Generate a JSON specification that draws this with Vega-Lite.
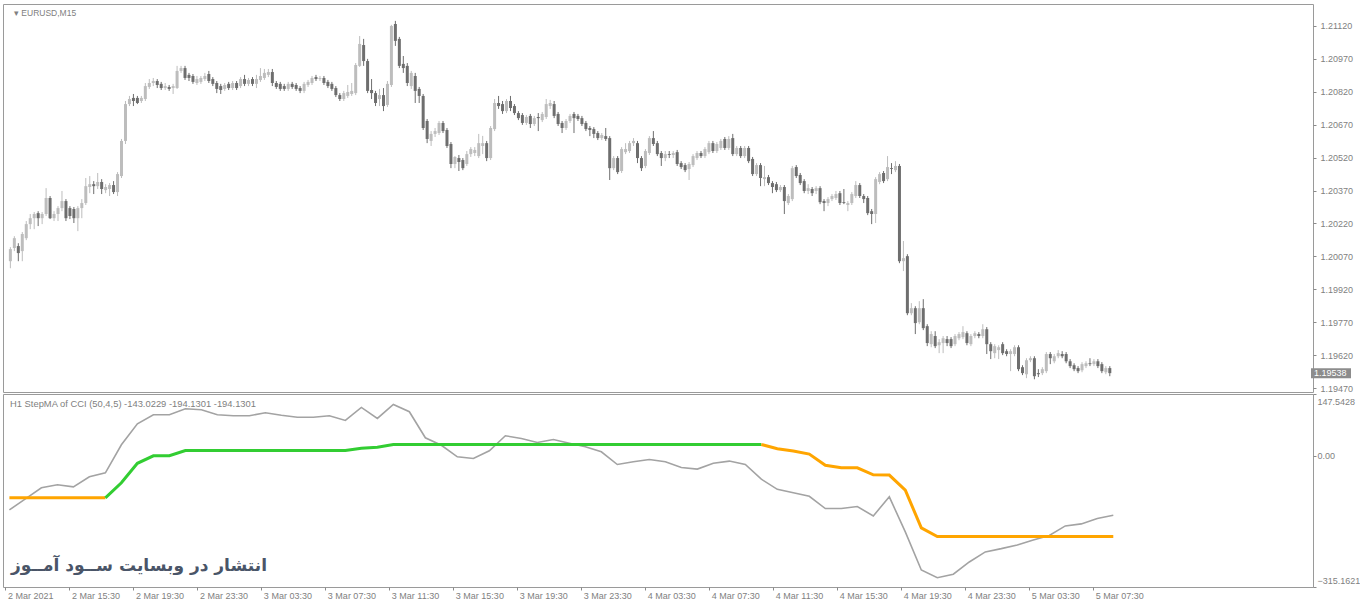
{
  "$schema": "https://vega.github.io/schema/vega-lite/v6.json",
  "background": "white",
  "padding": {"left": 2, "top": 3, "right": 0, "bottom": 0},
  "spacing": 2,
  "bounds": "flush",
  "config": {
    "view": {"stroke": "#9a9a9a", "strokeWidth": 1},
    "axis": {"labelFont": "Liberation Sans", "labelFontSize": 9, "labelColor": "#7f7f7f", "tickColor": "#8a8a8a", "domain": false, "grid": false, "title": null, "tickSize": 3, "labelOverlap": false},
    "text": {"font": "Liberation Sans"}
  },
  "datasets": {
    "bars": [
      {"t":"2021-03-02T11:30","o":1.20048,"h":1.20112,"l":1.20016,"c":1.20103},
      {"t":"2021-03-02T11:45","o":1.20108,"h":1.20162,"l":1.20094,"c":1.20153},
      {"t":"2021-03-02T12:00","o":1.20117,"h":1.20130,"l":1.20048,"c":1.20085},
      {"t":"2021-03-02T12:15","o":1.20094,"h":1.20181,"l":1.20048,"c":1.20172},
      {"t":"2021-03-02T12:30","o":1.20153,"h":1.20231,"l":1.20144,"c":1.20217},
      {"t":"2021-03-02T12:45","o":1.20217,"h":1.20263,"l":1.20194,"c":1.20244},
      {"t":"2021-03-02T13:00","o":1.20244,"h":1.20272,"l":1.20194,"c":1.20263},
      {"t":"2021-03-02T13:15","o":1.20267,"h":1.20276,"l":1.20208,"c":1.20244},
      {"t":"2021-03-02T13:30","o":1.20244,"h":1.20272,"l":1.20217,"c":1.20263},
      {"t":"2021-03-02T13:45","o":1.20263,"h":1.20381,"l":1.20254,"c":1.20336},
      {"t":"2021-03-02T14:00","o":1.20336,"h":1.20345,"l":1.20240,"c":1.20244},
      {"t":"2021-03-02T14:15","o":1.20244,"h":1.20276,"l":1.20231,"c":1.20263},
      {"t":"2021-03-02T14:30","o":1.20263,"h":1.20299,"l":1.20231,"c":1.20290},
      {"t":"2021-03-02T14:45","o":1.20290,"h":1.20368,"l":1.20276,"c":1.20322},
      {"t":"2021-03-02T15:00","o":1.20322,"h":1.20331,"l":1.20231,"c":1.20244},
      {"t":"2021-03-02T15:15","o":1.20290,"h":1.20299,"l":1.20240,"c":1.20254},
      {"t":"2021-03-02T15:30","o":1.20286,"h":1.20295,"l":1.20222,"c":1.20244},
      {"t":"2021-03-02T15:45","o":1.20244,"h":1.20299,"l":1.20185,"c":1.20290},
      {"t":"2021-03-02T16:00","o":1.20290,"h":1.20331,"l":1.20244,"c":1.20313},
      {"t":"2021-03-02T16:15","o":1.20313,"h":1.20427,"l":1.20304,"c":1.20390},
      {"t":"2021-03-02T16:30","o":1.20386,"h":1.20436,"l":1.20358,"c":1.20399},
      {"t":"2021-03-02T16:45","o":1.20399,"h":1.20413,"l":1.20354,"c":1.20390},
      {"t":"2021-03-02T17:00","o":1.20390,"h":1.20450,"l":1.20377,"c":1.20409},
      {"t":"2021-03-02T17:15","o":1.20409,"h":1.20422,"l":1.20354,"c":1.20377},
      {"t":"2021-03-02T17:30","o":1.20372,"h":1.20399,"l":1.20358,"c":1.20386},
      {"t":"2021-03-02T17:45","o":1.20377,"h":1.20404,"l":1.20345,"c":1.20395},
      {"t":"2021-03-02T18:00","o":1.20395,"h":1.20413,"l":1.20354,"c":1.20363},
      {"t":"2021-03-02T18:15","o":1.20363,"h":1.20454,"l":1.20345,"c":1.20445},
      {"t":"2021-03-02T18:30","o":1.20436,"h":1.20605,"l":1.20427,"c":1.20596},
      {"t":"2021-03-02T18:45","o":1.20596,"h":1.20778,"l":1.20582,"c":1.20764},
      {"t":"2021-03-02T19:00","o":1.20764,"h":1.20801,"l":1.20755,"c":1.20787},
      {"t":"2021-03-02T19:15","o":1.20792,"h":1.20810,"l":1.20755,"c":1.20778},
      {"t":"2021-03-02T19:30","o":1.20792,"h":1.20801,"l":1.20764,"c":1.20769},
      {"t":"2021-03-02T19:45","o":1.20778,"h":1.20801,"l":1.20769,"c":1.20792},
      {"t":"2021-03-02T20:00","o":1.20787,"h":1.20860,"l":1.20778,"c":1.20846},
      {"t":"2021-03-02T20:15","o":1.20842,"h":1.20878,"l":1.20833,"c":1.20860},
      {"t":"2021-03-02T20:30","o":1.20860,"h":1.20883,"l":1.20846,"c":1.20869},
      {"t":"2021-03-02T20:45","o":1.20869,"h":1.20878,"l":1.20837,"c":1.20851},
      {"t":"2021-03-02T21:00","o":1.20856,"h":1.20865,"l":1.20828,"c":1.20837},
      {"t":"2021-03-02T21:15","o":1.20837,"h":1.20860,"l":1.20828,"c":1.20846},
      {"t":"2021-03-02T21:30","o":1.20842,"h":1.20851,"l":1.20824,"c":1.20833},
      {"t":"2021-03-02T21:45","o":1.20837,"h":1.20856,"l":1.20810,"c":1.20846},
      {"t":"2021-03-02T22:00","o":1.20837,"h":1.20938,"l":1.20833,"c":1.20915},
      {"t":"2021-03-02T22:15","o":1.20915,"h":1.20938,"l":1.20906,"c":1.20928},
      {"t":"2021-03-02T22:30","o":1.20928,"h":1.20938,"l":1.20874,"c":1.20883},
      {"t":"2021-03-02T22:45","o":1.20897,"h":1.20906,"l":1.20869,"c":1.20883},
      {"t":"2021-03-02T23:00","o":1.20892,"h":1.20901,"l":1.20856,"c":1.20865},
      {"t":"2021-03-02T23:15","o":1.20860,"h":1.20892,"l":1.20851,"c":1.20878},
      {"t":"2021-03-02T23:30","o":1.20865,"h":1.20892,"l":1.20856,"c":1.20883},
      {"t":"2021-03-02T23:45","o":1.20878,"h":1.20906,"l":1.20869,"c":1.20892},
      {"t":"2021-03-03T00:00","o":1.20901,"h":1.20915,"l":1.20860,"c":1.20869},
      {"t":"2021-03-03T00:15","o":1.20878,"h":1.20887,"l":1.20846,"c":1.20856},
      {"t":"2021-03-03T00:30","o":1.20860,"h":1.20869,"l":1.20814,"c":1.20833},
      {"t":"2021-03-03T00:45","o":1.20846,"h":1.20856,"l":1.20810,"c":1.20828},
      {"t":"2021-03-03T01:00","o":1.20833,"h":1.20860,"l":1.20824,"c":1.20851},
      {"t":"2021-03-03T01:15","o":1.20856,"h":1.20865,"l":1.20828,"c":1.20837},
      {"t":"2021-03-03T01:30","o":1.20837,"h":1.20869,"l":1.20828,"c":1.20860},
      {"t":"2021-03-03T01:45","o":1.20860,"h":1.20869,"l":1.20828,"c":1.20837},
      {"t":"2021-03-03T02:00","o":1.20846,"h":1.20887,"l":1.20837,"c":1.20878},
      {"t":"2021-03-03T02:15","o":1.20878,"h":1.20897,"l":1.20846,"c":1.20856},
      {"t":"2021-03-03T02:30","o":1.20856,"h":1.20883,"l":1.20846,"c":1.20874},
      {"t":"2021-03-03T02:45","o":1.20878,"h":1.20887,"l":1.20846,"c":1.20856},
      {"t":"2021-03-03T03:00","o":1.20856,"h":1.20897,"l":1.20837,"c":1.20878},
      {"t":"2021-03-03T03:15","o":1.20874,"h":1.20928,"l":1.20865,"c":1.20892},
      {"t":"2021-03-03T03:30","o":1.20883,"h":1.20924,"l":1.20874,"c":1.20906},
      {"t":"2021-03-03T03:45","o":1.20897,"h":1.20924,"l":1.20887,"c":1.20910},
      {"t":"2021-03-03T04:00","o":1.20910,"h":1.20924,"l":1.20846,"c":1.20860},
      {"t":"2021-03-03T04:15","o":1.20860,"h":1.20869,"l":1.20833,"c":1.20842},
      {"t":"2021-03-03T04:30","o":1.20856,"h":1.20865,"l":1.20824,"c":1.20833},
      {"t":"2021-03-03T04:45","o":1.20846,"h":1.20856,"l":1.20824,"c":1.20833},
      {"t":"2021-03-03T05:00","o":1.20833,"h":1.20865,"l":1.20824,"c":1.20856},
      {"t":"2021-03-03T05:15","o":1.20856,"h":1.20865,"l":1.20833,"c":1.20842},
      {"t":"2021-03-03T05:30","o":1.20851,"h":1.20860,"l":1.20824,"c":1.20833},
      {"t":"2021-03-03T05:45","o":1.20837,"h":1.20846,"l":1.20814,"c":1.20824},
      {"t":"2021-03-03T06:00","o":1.20824,"h":1.20865,"l":1.20814,"c":1.20856},
      {"t":"2021-03-03T06:15","o":1.20851,"h":1.20874,"l":1.20842,"c":1.20865},
      {"t":"2021-03-03T06:30","o":1.20860,"h":1.20892,"l":1.20851,"c":1.20883},
      {"t":"2021-03-03T06:45","o":1.20887,"h":1.20897,"l":1.20869,"c":1.20878},
      {"t":"2021-03-03T07:00","o":1.20878,"h":1.20892,"l":1.20869,"c":1.20883},
      {"t":"2021-03-03T07:15","o":1.20883,"h":1.20892,"l":1.20851,"c":1.20860},
      {"t":"2021-03-03T07:30","o":1.20865,"h":1.20874,"l":1.20837,"c":1.20846},
      {"t":"2021-03-03T07:45","o":1.20856,"h":1.20865,"l":1.20824,"c":1.20833},
      {"t":"2021-03-03T08:00","o":1.20837,"h":1.20846,"l":1.20796,"c":1.20805},
      {"t":"2021-03-03T08:15","o":1.20805,"h":1.20814,"l":1.20778,"c":1.20787},
      {"t":"2021-03-03T08:30","o":1.20787,"h":1.20824,"l":1.20778,"c":1.20814},
      {"t":"2021-03-03T08:45","o":1.20801,"h":1.20851,"l":1.20792,"c":1.20819},
      {"t":"2021-03-03T09:00","o":1.20810,"h":1.20860,"l":1.20801,"c":1.20824},
      {"t":"2021-03-03T09:15","o":1.20814,"h":1.20951,"l":1.20805,"c":1.20942},
      {"t":"2021-03-03T09:30","o":1.20938,"h":1.21074,"l":1.20933,"c":1.21038},
      {"t":"2021-03-03T09:45","o":1.21033,"h":1.21061,"l":1.20938,"c":1.20960},
      {"t":"2021-03-03T10:00","o":1.20960,"h":1.20970,"l":1.20814,"c":1.20824},
      {"t":"2021-03-03T10:15","o":1.20828,"h":1.20878,"l":1.20787,"c":1.20814},
      {"t":"2021-03-03T10:30","o":1.20814,"h":1.20824,"l":1.20755,"c":1.20769},
      {"t":"2021-03-03T10:45","o":1.20787,"h":1.20833,"l":1.20755,"c":1.20805},
      {"t":"2021-03-03T11:00","o":1.20805,"h":1.20837,"l":1.20732,"c":1.20755},
      {"t":"2021-03-03T11:15","o":1.20760,"h":1.20869,"l":1.20751,"c":1.20856},
      {"t":"2021-03-03T11:30","o":1.20851,"h":1.21125,"l":1.20842,"c":1.21120},
      {"t":"2021-03-03T11:45","o":1.21129,"h":1.21143,"l":1.21029,"c":1.21052},
      {"t":"2021-03-03T12:00","o":1.21061,"h":1.21070,"l":1.20928,"c":1.20938},
      {"t":"2021-03-03T12:15","o":1.20947,"h":1.20983,"l":1.20906,"c":1.20928},
      {"t":"2021-03-03T12:30","o":1.20938,"h":1.20951,"l":1.20846,"c":1.20860},
      {"t":"2021-03-03T12:45","o":1.20846,"h":1.20915,"l":1.20833,"c":1.20906},
      {"t":"2021-03-03T13:00","o":1.20892,"h":1.20906,"l":1.20769,"c":1.20824},
      {"t":"2021-03-03T13:15","o":1.20833,"h":1.20842,"l":1.20769,"c":1.20801},
      {"t":"2021-03-03T13:30","o":1.20801,"h":1.20810,"l":1.20646,"c":1.20655},
      {"t":"2021-03-03T13:45","o":1.20687,"h":1.20696,"l":1.20586,"c":1.20605},
      {"t":"2021-03-03T14:00","o":1.20596,"h":1.20641,"l":1.20573,"c":1.20628},
      {"t":"2021-03-03T14:15","o":1.20628,"h":1.20655,"l":1.20614,"c":1.20641},
      {"t":"2021-03-03T14:30","o":1.20632,"h":1.20687,"l":1.20623,"c":1.20678},
      {"t":"2021-03-03T14:45","o":1.20678,"h":1.20687,"l":1.20632,"c":1.20641},
      {"t":"2021-03-03T15:00","o":1.20646,"h":1.20655,"l":1.20564,"c":1.20573},
      {"t":"2021-03-03T15:15","o":1.20582,"h":1.20591,"l":1.20472,"c":1.20491},
      {"t":"2021-03-03T15:30","o":1.20491,"h":1.20527,"l":1.20472,"c":1.20523},
      {"t":"2021-03-03T15:45","o":1.20518,"h":1.20532,"l":1.20459,"c":1.20500},
      {"t":"2021-03-03T16:00","o":1.20509,"h":1.20518,"l":1.20463,"c":1.20472},
      {"t":"2021-03-03T16:15","o":1.20491,"h":1.20550,"l":1.20482,"c":1.20536},
      {"t":"2021-03-03T16:30","o":1.20536,"h":1.20568,"l":1.20523,"c":1.20559},
      {"t":"2021-03-03T16:45","o":1.20541,"h":1.20568,"l":1.20527,"c":1.20555},
      {"t":"2021-03-03T17:00","o":1.20527,"h":1.20628,"l":1.20518,"c":1.20586},
      {"t":"2021-03-03T17:15","o":1.20573,"h":1.20619,"l":1.20536,"c":1.20586},
      {"t":"2021-03-03T17:30","o":1.20586,"h":1.20596,"l":1.20504,"c":1.20518},
      {"t":"2021-03-03T17:45","o":1.20518,"h":1.20664,"l":1.20509,"c":1.20655},
      {"t":"2021-03-03T18:00","o":1.20650,"h":1.20787,"l":1.20641,"c":1.20769},
      {"t":"2021-03-03T18:15","o":1.20769,"h":1.20801,"l":1.20742,"c":1.20755},
      {"t":"2021-03-03T18:30","o":1.20764,"h":1.20778,"l":1.20719,"c":1.20732},
      {"t":"2021-03-03T18:45","o":1.20732,"h":1.20787,"l":1.20723,"c":1.20778},
      {"t":"2021-03-03T19:00","o":1.20778,"h":1.20801,"l":1.20732,"c":1.20746},
      {"t":"2021-03-03T19:15","o":1.20755,"h":1.20764,"l":1.20714,"c":1.20723},
      {"t":"2021-03-03T19:30","o":1.20723,"h":1.20732,"l":1.20691,"c":1.20700},
      {"t":"2021-03-03T19:45","o":1.20714,"h":1.20723,"l":1.20669,"c":1.20678},
      {"t":"2021-03-03T20:00","o":1.20678,"h":1.20714,"l":1.20669,"c":1.20705},
      {"t":"2021-03-03T20:15","o":1.20710,"h":1.20719,"l":1.20655,"c":1.20673},
      {"t":"2021-03-03T20:30","o":1.20673,"h":1.20710,"l":1.20664,"c":1.20700},
      {"t":"2021-03-03T20:45","o":1.20705,"h":1.20723,"l":1.20641,"c":1.20700},
      {"t":"2021-03-03T21:00","o":1.20691,"h":1.20728,"l":1.20682,"c":1.20719},
      {"t":"2021-03-03T21:15","o":1.20705,"h":1.20787,"l":1.20696,"c":1.20764},
      {"t":"2021-03-03T21:30","o":1.20755,"h":1.20783,"l":1.20742,"c":1.20769},
      {"t":"2021-03-03T21:45","o":1.20764,"h":1.20778,"l":1.20700,"c":1.20710},
      {"t":"2021-03-03T22:00","o":1.20719,"h":1.20728,"l":1.20664,"c":1.20673},
      {"t":"2021-03-03T22:15","o":1.20678,"h":1.20687,"l":1.20632,"c":1.20655},
      {"t":"2021-03-03T22:30","o":1.20655,"h":1.20696,"l":1.20646,"c":1.20687},
      {"t":"2021-03-03T22:45","o":1.20687,"h":1.20719,"l":1.20678,"c":1.20710},
      {"t":"2021-03-03T23:00","o":1.20719,"h":1.20728,"l":1.20632,"c":1.20700},
      {"t":"2021-03-03T23:15","o":1.20710,"h":1.20719,"l":1.20687,"c":1.20696},
      {"t":"2021-03-03T23:30","o":1.20700,"h":1.20710,"l":1.20664,"c":1.20673},
      {"t":"2021-03-03T23:45","o":1.20678,"h":1.20687,"l":1.20641,"c":1.20650},
      {"t":"2021-03-04T00:00","o":1.20655,"h":1.20664,"l":1.20618,"c":1.20646},
      {"t":"2021-03-04T00:15","o":1.20650,"h":1.20659,"l":1.20609,"c":1.20628},
      {"t":"2021-03-04T00:30","o":1.20632,"h":1.20641,"l":1.20600,"c":1.20609},
      {"t":"2021-03-04T00:45","o":1.20609,"h":1.20632,"l":1.20600,"c":1.20623},
      {"t":"2021-03-04T01:00","o":1.20618,"h":1.20655,"l":1.20596,"c":1.20605},
      {"t":"2021-03-04T01:15","o":1.20609,"h":1.20618,"l":1.20418,"c":1.20472},
      {"t":"2021-03-04T01:30","o":1.20472,"h":1.20527,"l":1.20463,"c":1.20518},
      {"t":"2021-03-04T01:45","o":1.20518,"h":1.20527,"l":1.20445,"c":1.20454},
      {"t":"2021-03-04T02:00","o":1.20459,"h":1.20568,"l":1.20450,"c":1.20559},
      {"t":"2021-03-04T02:15","o":1.20545,"h":1.20586,"l":1.20536,"c":1.20559},
      {"t":"2021-03-04T02:30","o":1.20550,"h":1.20596,"l":1.20541,"c":1.20586},
      {"t":"2021-03-04T02:45","o":1.20586,"h":1.20609,"l":1.20573,"c":1.20596},
      {"t":"2021-03-04T03:00","o":1.20586,"h":1.20596,"l":1.20495,"c":1.20518},
      {"t":"2021-03-04T03:15","o":1.20518,"h":1.20527,"l":1.20459,"c":1.20472},
      {"t":"2021-03-04T03:30","o":1.20482,"h":1.20559,"l":1.20472,"c":1.20550},
      {"t":"2021-03-04T03:45","o":1.20541,"h":1.20618,"l":1.20532,"c":1.20609},
      {"t":"2021-03-04T04:00","o":1.20609,"h":1.20641,"l":1.20573,"c":1.20582},
      {"t":"2021-03-04T04:15","o":1.20586,"h":1.20596,"l":1.20527,"c":1.20536},
      {"t":"2021-03-04T04:30","o":1.20541,"h":1.20550,"l":1.20482,"c":1.20518},
      {"t":"2021-03-04T04:45","o":1.20518,"h":1.20550,"l":1.20504,"c":1.20536},
      {"t":"2021-03-04T05:00","o":1.20536,"h":1.20550,"l":1.20518,"c":1.20532},
      {"t":"2021-03-04T05:15","o":1.20532,"h":1.20550,"l":1.20518,"c":1.20541},
      {"t":"2021-03-04T05:30","o":1.20545,"h":1.20555,"l":1.20482,"c":1.20491},
      {"t":"2021-03-04T05:45","o":1.20495,"h":1.20504,"l":1.20468,"c":1.20477},
      {"t":"2021-03-04T06:00","o":1.20486,"h":1.20495,"l":1.20454,"c":1.20463},
      {"t":"2021-03-04T06:15","o":1.20468,"h":1.20500,"l":1.20418,"c":1.20491},
      {"t":"2021-03-04T06:30","o":1.20486,"h":1.20536,"l":1.20477,"c":1.20527},
      {"t":"2021-03-04T06:45","o":1.20518,"h":1.20550,"l":1.20509,"c":1.20541},
      {"t":"2021-03-04T07:00","o":1.20541,"h":1.20550,"l":1.20518,"c":1.20527},
      {"t":"2021-03-04T07:15","o":1.20527,"h":1.20568,"l":1.20518,"c":1.20559},
      {"t":"2021-03-04T07:30","o":1.20545,"h":1.20596,"l":1.20536,"c":1.20586},
      {"t":"2021-03-04T07:45","o":1.20586,"h":1.20596,"l":1.20541,"c":1.20550},
      {"t":"2021-03-04T08:00","o":1.20550,"h":1.20591,"l":1.20541,"c":1.20582},
      {"t":"2021-03-04T08:15","o":1.20564,"h":1.20605,"l":1.20555,"c":1.20596},
      {"t":"2021-03-04T08:30","o":1.20605,"h":1.20614,"l":1.20555,"c":1.20564},
      {"t":"2021-03-04T08:45","o":1.20564,"h":1.20618,"l":1.20555,"c":1.20605},
      {"t":"2021-03-04T09:00","o":1.20609,"h":1.20628,"l":1.20527,"c":1.20536},
      {"t":"2021-03-04T09:15","o":1.20536,"h":1.20573,"l":1.20527,"c":1.20564},
      {"t":"2021-03-04T09:30","o":1.20564,"h":1.20573,"l":1.20518,"c":1.20527},
      {"t":"2021-03-04T09:45","o":1.20527,"h":1.20573,"l":1.20518,"c":1.20564},
      {"t":"2021-03-04T10:00","o":1.20564,"h":1.20573,"l":1.20495,"c":1.20504},
      {"t":"2021-03-04T10:15","o":1.20514,"h":1.20523,"l":1.20436,"c":1.20445},
      {"t":"2021-03-04T10:30","o":1.20445,"h":1.20495,"l":1.20436,"c":1.20486},
      {"t":"2021-03-04T10:45","o":1.20486,"h":1.20495,"l":1.20390,"c":1.20427},
      {"t":"2021-03-04T11:00","o":1.20422,"h":1.20482,"l":1.20390,"c":1.20431},
      {"t":"2021-03-04T11:15","o":1.20431,"h":1.20441,"l":1.20395,"c":1.20404},
      {"t":"2021-03-04T11:30","o":1.20404,"h":1.20413,"l":1.20358,"c":1.20386},
      {"t":"2021-03-04T11:45","o":1.20399,"h":1.20409,"l":1.20363,"c":1.20372},
      {"t":"2021-03-04T12:00","o":1.20372,"h":1.20395,"l":1.20363,"c":1.20386},
      {"t":"2021-03-04T12:15","o":1.20386,"h":1.20395,"l":1.20263,"c":1.20322},
      {"t":"2021-03-04T12:30","o":1.20313,"h":1.20354,"l":1.20304,"c":1.20345},
      {"t":"2021-03-04T12:45","o":1.20331,"h":1.20482,"l":1.20322,"c":1.20472},
      {"t":"2021-03-04T13:00","o":1.20477,"h":1.20486,"l":1.20427,"c":1.20436},
      {"t":"2021-03-04T13:15","o":1.20441,"h":1.20450,"l":1.20395,"c":1.20404},
      {"t":"2021-03-04T13:30","o":1.20413,"h":1.20422,"l":1.20358,"c":1.20368},
      {"t":"2021-03-04T13:45","o":1.20368,"h":1.20399,"l":1.20354,"c":1.20381},
      {"t":"2021-03-04T14:00","o":1.20377,"h":1.20386,"l":1.20345,"c":1.20358},
      {"t":"2021-03-04T14:15","o":1.20368,"h":1.20390,"l":1.20354,"c":1.20381},
      {"t":"2021-03-04T14:30","o":1.20381,"h":1.20390,"l":1.20308,"c":1.20317},
      {"t":"2021-03-04T14:45","o":1.20322,"h":1.20331,"l":1.20276,"c":1.20313},
      {"t":"2021-03-04T15:00","o":1.20313,"h":1.20340,"l":1.20299,"c":1.20331},
      {"t":"2021-03-04T15:15","o":1.20331,"h":1.20354,"l":1.20322,"c":1.20345},
      {"t":"2021-03-04T15:30","o":1.20336,"h":1.20368,"l":1.20327,"c":1.20354},
      {"t":"2021-03-04T15:45","o":1.20358,"h":1.20368,"l":1.20304,"c":1.20313},
      {"t":"2021-03-04T16:00","o":1.20317,"h":1.20377,"l":1.20308,"c":1.20313},
      {"t":"2021-03-04T16:15","o":1.20304,"h":1.20322,"l":1.20276,"c":1.20313},
      {"t":"2021-03-04T16:30","o":1.20313,"h":1.20363,"l":1.20304,"c":1.20354},
      {"t":"2021-03-04T16:45","o":1.20345,"h":1.20413,"l":1.20336,"c":1.20395},
      {"t":"2021-03-04T17:00","o":1.20395,"h":1.20404,"l":1.20336,"c":1.20345},
      {"t":"2021-03-04T17:15","o":1.20345,"h":1.20354,"l":1.20313,"c":1.20331},
      {"t":"2021-03-04T17:30","o":1.20336,"h":1.20345,"l":1.20258,"c":1.20267},
      {"t":"2021-03-04T17:45","o":1.20276,"h":1.20286,"l":1.20217,"c":1.20263},
      {"t":"2021-03-04T18:00","o":1.20263,"h":1.20431,"l":1.20222,"c":1.20422},
      {"t":"2021-03-04T18:15","o":1.20409,"h":1.20454,"l":1.20399,"c":1.20445},
      {"t":"2021-03-04T18:30","o":1.20450,"h":1.20459,"l":1.20404,"c":1.20413},
      {"t":"2021-03-04T18:45","o":1.20422,"h":1.20527,"l":1.20413,"c":1.20477},
      {"t":"2021-03-04T19:00","o":1.20472,"h":1.20495,"l":1.20445,"c":1.20468},
      {"t":"2021-03-04T19:15","o":1.20463,"h":1.20504,"l":1.20454,"c":1.20482},
      {"t":"2021-03-04T19:30","o":1.20482,"h":1.20491,"l":1.20039,"c":1.20048},
      {"t":"2021-03-04T19:45","o":1.20048,"h":1.20140,"l":1.20003,"c":1.20062},
      {"t":"2021-03-04T20:00","o":1.20071,"h":1.20080,"l":1.19802,"c":1.19811},
      {"t":"2021-03-04T20:15","o":1.19811,"h":1.19857,"l":1.19802,"c":1.19834},
      {"t":"2021-03-04T20:30","o":1.19834,"h":1.19843,"l":1.19716,"c":1.19766},
      {"t":"2021-03-04T20:45","o":1.19770,"h":1.19866,"l":1.19761,"c":1.19834},
      {"t":"2021-03-04T21:00","o":1.19834,"h":1.19875,"l":1.19734,"c":1.19743},
      {"t":"2021-03-04T21:15","o":1.19752,"h":1.19761,"l":1.19661,"c":1.19675},
      {"t":"2021-03-04T21:30","o":1.19670,"h":1.19729,"l":1.19656,"c":1.19716},
      {"t":"2021-03-04T21:45","o":1.19707,"h":1.19729,"l":1.19652,"c":1.19661},
      {"t":"2021-03-04T22:00","o":1.19665,"h":1.19693,"l":1.19629,"c":1.19679},
      {"t":"2021-03-04T22:15","o":1.19675,"h":1.19707,"l":1.19629,"c":1.19697},
      {"t":"2021-03-04T22:30","o":1.19693,"h":1.19707,"l":1.19661,"c":1.19675},
      {"t":"2021-03-04T22:45","o":1.19693,"h":1.19702,"l":1.19652,"c":1.19661},
      {"t":"2021-03-04T23:00","o":1.19670,"h":1.19716,"l":1.19661,"c":1.19707},
      {"t":"2021-03-04T23:15","o":1.19697,"h":1.19725,"l":1.19688,"c":1.19716},
      {"t":"2021-03-04T23:30","o":1.19702,"h":1.19752,"l":1.19693,"c":1.19725},
      {"t":"2021-03-04T23:45","o":1.19720,"h":1.19729,"l":1.19665,"c":1.19675},
      {"t":"2021-03-05T00:00","o":1.19670,"h":1.19716,"l":1.19661,"c":1.19707},
      {"t":"2021-03-05T00:15","o":1.19707,"h":1.19729,"l":1.19697,"c":1.19720},
      {"t":"2021-03-05T00:30","o":1.19716,"h":1.19725,"l":1.19697,"c":1.19707},
      {"t":"2021-03-05T00:45","o":1.19707,"h":1.19761,"l":1.19697,"c":1.19738},
      {"t":"2021-03-05T01:00","o":1.19738,"h":1.19748,"l":1.19625,"c":1.19670},
      {"t":"2021-03-05T01:15","o":1.19670,"h":1.19679,"l":1.19602,"c":1.19638},
      {"t":"2021-03-05T01:30","o":1.19629,"h":1.19670,"l":1.19606,"c":1.19661},
      {"t":"2021-03-05T01:45","o":1.19643,"h":1.19665,"l":1.19602,"c":1.19656},
      {"t":"2021-03-05T02:00","o":1.19670,"h":1.19679,"l":1.19620,"c":1.19629},
      {"t":"2021-03-05T02:15","o":1.19638,"h":1.19647,"l":1.19615,"c":1.19625},
      {"t":"2021-03-05T02:30","o":1.19625,"h":1.19647,"l":1.19547,"c":1.19638},
      {"t":"2021-03-05T02:45","o":1.19625,"h":1.19665,"l":1.19615,"c":1.19656},
      {"t":"2021-03-05T03:00","o":1.19656,"h":1.19665,"l":1.19547,"c":1.19556},
      {"t":"2021-03-05T03:15","o":1.19565,"h":1.19574,"l":1.19529,"c":1.19538},
      {"t":"2021-03-05T03:30","o":1.19533,"h":1.19606,"l":1.19515,"c":1.19597},
      {"t":"2021-03-05T03:45","o":1.19597,"h":1.19615,"l":1.19588,"c":1.19606},
      {"t":"2021-03-05T04:00","o":1.19606,"h":1.19615,"l":1.19510,"c":1.19524},
      {"t":"2021-03-05T04:15","o":1.19538,"h":1.19556,"l":1.19520,"c":1.19533},
      {"t":"2021-03-05T04:30","o":1.19538,"h":1.19565,"l":1.19529,"c":1.19556},
      {"t":"2021-03-05T04:45","o":1.19547,"h":1.19634,"l":1.19538,"c":1.19625},
      {"t":"2021-03-05T05:00","o":1.19625,"h":1.19634,"l":1.19579,"c":1.19606},
      {"t":"2021-03-05T05:15","o":1.19592,"h":1.19625,"l":1.19583,"c":1.19615},
      {"t":"2021-03-05T05:30","o":1.19615,"h":1.19643,"l":1.19606,"c":1.19629},
      {"t":"2021-03-05T05:45","o":1.19625,"h":1.19638,"l":1.19606,"c":1.19615},
      {"t":"2021-03-05T06:00","o":1.19625,"h":1.19634,"l":1.19583,"c":1.19592},
      {"t":"2021-03-05T06:15","o":1.19592,"h":1.19602,"l":1.19561,"c":1.19570},
      {"t":"2021-03-05T06:30","o":1.19574,"h":1.19583,"l":1.19547,"c":1.19556},
      {"t":"2021-03-05T06:45","o":1.19561,"h":1.19570,"l":1.19538,"c":1.19547},
      {"t":"2021-03-05T07:00","o":1.19551,"h":1.19588,"l":1.19542,"c":1.19579},
      {"t":"2021-03-05T07:15","o":1.19570,"h":1.19592,"l":1.19561,"c":1.19583},
      {"t":"2021-03-05T07:30","o":1.19583,"h":1.19606,"l":1.19570,"c":1.19579},
      {"t":"2021-03-05T07:45","o":1.19579,"h":1.19602,"l":1.19570,"c":1.19592},
      {"t":"2021-03-05T08:00","o":1.19592,"h":1.19602,"l":1.19561,"c":1.19570},
      {"t":"2021-03-05T08:15","o":1.19579,"h":1.19588,"l":1.19538,"c":1.19547},
      {"t":"2021-03-05T08:30","o":1.19542,"h":1.19570,"l":1.19533,"c":1.19561},
      {"t":"2021-03-05T08:45","o":1.19561,"h":1.19570,"l":1.19524,"c":1.19538}
    ],
    "cci": [
      {"t":"2021-03-02T11:45","v":-130.3},{"t":"2021-03-02T12:45","v":-103.9},{"t":"2021-03-02T13:45","v":-77.4},
      {"t":"2021-03-02T14:45","v":-70.2},{"t":"2021-03-02T15:45","v":-75.0},{"t":"2021-03-02T16:45","v":-51.0},
      {"t":"2021-03-02T17:45","v":-41.4},{"t":"2021-03-02T18:45","v":25.8},{"t":"2021-03-02T19:45","v":76.2},
      {"t":"2021-03-02T20:45","v":97.8},{"t":"2021-03-02T21:45","v":97.8},{"t":"2021-03-02T22:45","v":112.2},
      {"t":"2021-03-02T23:45","v":109.8},{"t":"2021-03-03T00:45","v":97.8},{"t":"2021-03-03T01:45","v":95.4},
      {"t":"2021-03-03T02:45","v":95.4},{"t":"2021-03-03T03:45","v":102.6},{"t":"2021-03-03T04:45","v":96.6},
      {"t":"2021-03-03T05:45","v":91.8},{"t":"2021-03-03T06:45","v":91.8},{"t":"2021-03-03T07:45","v":95.4},
      {"t":"2021-03-03T08:45","v":84.1},{"t":"2021-03-03T09:45","v":115.3},{"t":"2021-03-03T10:45","v":88.9},
      {"t":"2021-03-03T11:45","v":122.5},{"t":"2021-03-03T12:45","v":105.0},{"t":"2021-03-03T13:45","v":42.6},
      {"t":"2021-03-03T14:45","v":24.6},{"t":"2021-03-03T15:45","v":-3.0},{"t":"2021-03-03T16:45","v":-7.1},
      {"t":"2021-03-03T17:45","v":11.4},{"t":"2021-03-03T18:45","v":47.4},{"t":"2021-03-03T19:45","v":40.9},
      {"t":"2021-03-03T20:45","v":31.3},{"t":"2021-03-03T21:45","v":38.5},{"t":"2021-03-03T22:45","v":29.4},
      {"t":"2021-03-03T23:45","v":21.0},{"t":"2021-03-04T00:45","v":9.0},{"t":"2021-03-04T01:45","v":-21.5},
      {"t":"2021-03-04T02:45","v":-15.0},{"t":"2021-03-04T03:45","v":-9.5},{"t":"2021-03-04T04:45","v":-15.0},
      {"t":"2021-03-04T05:45","v":-28.7},{"t":"2021-03-04T06:45","v":-32.5},{"t":"2021-03-04T07:45","v":-18.6},
      {"t":"2021-03-04T08:45","v":-13.3},{"t":"2021-03-04T09:45","v":-21.5},{"t":"2021-03-04T10:45","v":-56.6},
      {"t":"2021-03-04T11:45","v":-81.0},{"t":"2021-03-04T12:45","v":-89.4},{"t":"2021-03-04T13:45","v":-97.8},
      {"t":"2021-03-04T14:45","v":-127.1},{"t":"2021-03-04T15:45","v":-127.1},{"t":"2021-03-04T16:45","v":-122.3},
      {"t":"2021-03-04T17:45","v":-144.7},{"t":"2021-03-04T18:45","v":-99.0},{"t":"2021-03-04T19:45","v":-183.1},
      {"t":"2021-03-04T20:45","v":-274.3},{"t":"2021-03-04T21:45","v":-292.8},{"t":"2021-03-04T22:45","v":-284.6},
      {"t":"2021-03-04T23:45","v":-255.1},{"t":"2021-03-05T00:45","v":-231.1},{"t":"2021-03-05T01:45","v":-223.2},
      {"t":"2021-03-05T02:45","v":-214.3},{"t":"2021-03-05T03:45","v":-202.3},{"t":"2021-03-05T04:45","v":-191.5},
      {"t":"2021-03-05T05:45","v":-168.7},{"t":"2021-03-05T06:45","v":-163.9},{"t":"2021-03-05T07:45","v":-150.7},
      {"t":"2021-03-05T08:45","v":-143.0229}
    ],
    "step": [
      {"t":"2021-03-02T11:45","v":-101.4,"trend":"down","seg":1},
      {"t":"2021-03-02T17:45","v":-101.4,"trend":"down","seg":1},
      {"t":"2021-03-02T17:45","v":-101.4,"trend":"up","seg":2},
      {"t":"2021-03-02T18:45","v":-65.4,"trend":"up","seg":2},
      {"t":"2021-03-02T19:45","v":-18.6,"trend":"up","seg":2},
      {"t":"2021-03-02T20:45","v":-0.6,"trend":"up","seg":2},
      {"t":"2021-03-02T21:45","v":-0.6,"trend":"up","seg":2},
      {"t":"2021-03-02T22:45","v":12.1,"trend":"up","seg":2},
      {"t":"2021-03-03T08:45","v":12.1,"trend":"up","seg":2},
      {"t":"2021-03-03T09:45","v":17.4,"trend":"up","seg":2},
      {"t":"2021-03-03T10:45","v":19.8,"trend":"up","seg":2},
      {"t":"2021-03-03T11:45","v":26.5,"trend":"up","seg":2},
      {"t":"2021-03-04T10:45","v":26.5,"trend":"up","seg":2},
      {"t":"2021-03-04T10:45","v":26.5,"trend":"down","seg":3},
      {"t":"2021-03-04T11:45","v":16.2,"trend":"down","seg":3},
      {"t":"2021-03-04T12:45","v":10.7,"trend":"down","seg":3},
      {"t":"2021-03-04T13:45","v":3.5,"trend":"down","seg":3},
      {"t":"2021-03-04T14:45","v":-23.4,"trend":"down","seg":3},
      {"t":"2021-03-04T15:45","v":-29.4,"trend":"down","seg":3},
      {"t":"2021-03-04T16:45","v":-29.4,"trend":"down","seg":3},
      {"t":"2021-03-04T17:45","v":-46.2,"trend":"down","seg":3},
      {"t":"2021-03-04T18:45","v":-46.9,"trend":"down","seg":3},
      {"t":"2021-03-04T19:45","v":-83.0,"trend":"down","seg":3},
      {"t":"2021-03-04T20:45","v":-173.5,"trend":"down","seg":3},
      {"t":"2021-03-04T21:45","v":-194.1301,"trend":"down","seg":3},
      {"t":"2021-03-05T08:45","v":-194.1301,"trend":"down","seg":3}
    ]
  },
  "vconcat": [
    {
      "width": 1310,
      "height": 388,
      "layer": [
        {
          "data": {"name": "bars"},
          "mark": {"type": "rule", "strokeWidth": 1},
          "encoding": {
            "x": {"field": "t", "type": "temporal", "scale": {"domain": [{"year": 2021, "month": 3, "date": 2, "hours": 11, "minutes": 21}, {"year": 2021, "month": 3, "date": 5, "hours": 21, "minutes": 14}], "nice": false}, "axis": null},
            "y": {
              "field": "l", "type": "quantitative",
              "scale": {"domain": [1.19452, 1.2122], "nice": false, "zero": false},
              "axis": {"orient": "right", "values": [1.1947, 1.1962, 1.1977, 1.1992, 1.2007, 1.2022, 1.2037, 1.2052, 1.2067, 1.2082, 1.2097, 1.2112], "tickCount": 40, "format": ".5f", "labelPadding": 4, "labelOverlap": false}
            },
            "y2": {"field": "h"},
            "color": {"condition": {"test": "datum.c >= datum.o", "value": "#bdbdbd"}, "value": "#6e6e6e"}
          }
        },
        {
          "data": {"name": "bars"},
          "mark": {"type": "bar", "size": 3},
          "encoding": {
            "x": {"field": "t", "type": "temporal", "scale": {"domain": [{"year": 2021, "month": 3, "date": 2, "hours": 11, "minutes": 21}, {"year": 2021, "month": 3, "date": 5, "hours": 21, "minutes": 14}], "nice": false}, "axis": null},
            "y": {
              "field": "o", "type": "quantitative",
              "axis": {"orient": "right", "values": [1.1947, 1.1962, 1.1977, 1.1992, 1.2007, 1.2022, 1.2037, 1.2052, 1.2067, 1.2082, 1.2097, 1.2112], "tickCount": 40, "format": ".5f", "labelPadding": 4, "labelOverlap": false}
            },
            "y2": {"field": "c"},
            "color": {"condition": {"test": "datum.c >= datum.o", "value": "#bdbdbd"}, "value": "#6e6e6e"}
          }
        },
        {
          "data": {"values": [{"p": 1.19538}]},
          "mark": {"type": "rect", "color": "#8c8c8c", "xOffset": 3, "x2Offset": 43, "yOffset": -5, "y2Offset": 5},
          "encoding": {
            "x": {"datum": {"year": 2021, "month": 3, "date": 5, "hours": 21, "minutes": 14}, "type": "temporal"},
            "x2": {"datum": {"year": 2021, "month": 3, "date": 5, "hours": 21, "minutes": 14}},
            "y": {"field": "p", "type": "quantitative"},
            "y2": {"field": "p"}
          }
        },
        {
          "data": {"values": [{"p": 1.19538}]},
          "mark": {"type": "text", "align": "left", "baseline": "middle", "dx": 6, "color": "white", "fontSize": 9},
          "encoding": {
            "x": {"datum": {"year": 2021, "month": 3, "date": 5, "hours": 21, "minutes": 14}, "type": "temporal"},
            "y": {"field": "p", "type": "quantitative"},
            "text": {"field": "p", "type": "quantitative", "format": ".5f"}
          }
        },
        {
          "data": {"values": [{"label": "▾ EURUSD,M15"}]},
          "mark": {"type": "text", "align": "left", "baseline": "middle", "dx": 6, "dy": 9, "color": "#808080", "fontSize": 8.5},
          "encoding": {
            "x": {"datum": {"year": 2021, "month": 3, "date": 2, "hours": 11, "minutes": 21}, "type": "temporal"},
            "y": {"datum": 1.2122, "type": "quantitative"},
            "text": {"field": "label", "type": "nominal"}
          }
        }
      ]
    },
    {
      "width": 1310,
      "height": 193,
      "layer": [
        {
          "data": {"name": "cci"},
          "mark": {"type": "line", "color": "#a3a3a3", "strokeWidth": 1.6},
          "encoding": {
            "x": {
              "field": "t", "type": "temporal",
              "scale": {"domain": [{"year": 2021, "month": 3, "date": 2, "hours": 11, "minutes": 21}, {"year": 2021, "month": 3, "date": 5, "hours": 21, "minutes": 14}], "nice": false},
              "axis": {
                "values": [
                  {"year": 2021, "month": 3, "date": 2, "hours": 11, "minutes": 30},
                  {"year": 2021, "month": 3, "date": 2, "hours": 15, "minutes": 30},
                  {"year": 2021, "month": 3, "date": 2, "hours": 19, "minutes": 30},
                  {"year": 2021, "month": 3, "date": 2, "hours": 23, "minutes": 30},
                  {"year": 2021, "month": 3, "date": 3, "hours": 3, "minutes": 30},
                  {"year": 2021, "month": 3, "date": 3, "hours": 7, "minutes": 30},
                  {"year": 2021, "month": 3, "date": 3, "hours": 11, "minutes": 30},
                  {"year": 2021, "month": 3, "date": 3, "hours": 15, "minutes": 30},
                  {"year": 2021, "month": 3, "date": 3, "hours": 19, "minutes": 30},
                  {"year": 2021, "month": 3, "date": 3, "hours": 23, "minutes": 30},
                  {"year": 2021, "month": 3, "date": 4, "hours": 3, "minutes": 30},
                  {"year": 2021, "month": 3, "date": 4, "hours": 7, "minutes": 30},
                  {"year": 2021, "month": 3, "date": 4, "hours": 11, "minutes": 30},
                  {"year": 2021, "month": 3, "date": 4, "hours": 15, "minutes": 30},
                  {"year": 2021, "month": 3, "date": 4, "hours": 19, "minutes": 30},
                  {"year": 2021, "month": 3, "date": 4, "hours": 23, "minutes": 30},
                  {"year": 2021, "month": 3, "date": 5, "hours": 3, "minutes": 30},
                  {"year": 2021, "month": 3, "date": 5, "hours": 7, "minutes": 30}
                ],
                "tickCount": 60,
                "labelExpr": "timeFormat(datum.value, '%d %H:%M') == '02 11:30' ? '2 Mar 2021' : timeFormat(datum.value, '%-d %b %H:%M')",
                "labelAlign": "left",
                "labelOffset": 2,
                "labelPadding": 1,
                "labelOverlap": false,
                "labelFlush": false,
                "labelBound": false
              }
            },
            "y": {
              "field": "v", "type": "quantitative",
              "scale": {"domain": [-315.1621, 147.5428], "nice": false, "zero": false},
              "axis": {
                "orient": "right",
                "values": [-315.1621, 0, 147.5428],
                "labelExpr": "datum.value == 0 ? '0.00' : format(datum.value, '.4f')",
                "labelPadding": 1,
                "labelOverlap": false,
                "labelOffset": {"condition": [{"test": "datum.value > 100", "value": 7}, {"test": "datum.value < -300", "value": -7}], "value": 0}
              }
            }
          }
        },
        {
          "data": {"name": "step"},
          "mark": {"type": "line", "strokeWidth": 3},
          "encoding": {
            "x": {"field": "t", "type": "temporal"},
            "y": {"field": "v", "type": "quantitative"},
            "color": {"field": "trend", "type": "nominal", "scale": {"domain": ["up", "down"], "range": ["#32cd32", "#ffa500"]}, "legend": null},
            "detail": {"field": "seg", "type": "nominal"}
          }
        },
        {
          "data": {"values": [{"label": "H1 StepMA of CCI (50,4,5) -143.0229 -194.1301 -194.1301"}]},
          "mark": {"type": "text", "align": "left", "baseline": "middle", "dx": 7, "dy": 10, "color": "#808080", "fontSize": 9.4},
          "encoding": {
            "x": {"datum": {"year": 2021, "month": 3, "date": 2, "hours": 11, "minutes": 21}, "type": "temporal"},
            "y": {"datum": 147.5428, "type": "quantitative"},
            "text": {"field": "label", "type": "nominal"}
          }
        },
        {
          "data": {"values": [{"label": "انتشار در وبسایت ســود آمــوز"}]},
          "mark": {"type": "text", "font": "DejaVu Sans", "fontWeight": "bold", "fontSize": 17, "color": "#4a5568", "align": "center", "baseline": "middle"},
          "encoding": {
            "x": {"datum": {"year": 2021, "month": 3, "date": 2, "hours": 19, "minutes": 51}, "type": "temporal"},
            "y": {"datum": -264, "type": "quantitative"},
            "text": {"field": "label", "type": "nominal"}
          }
        }
      ]
    }
  ]
}
